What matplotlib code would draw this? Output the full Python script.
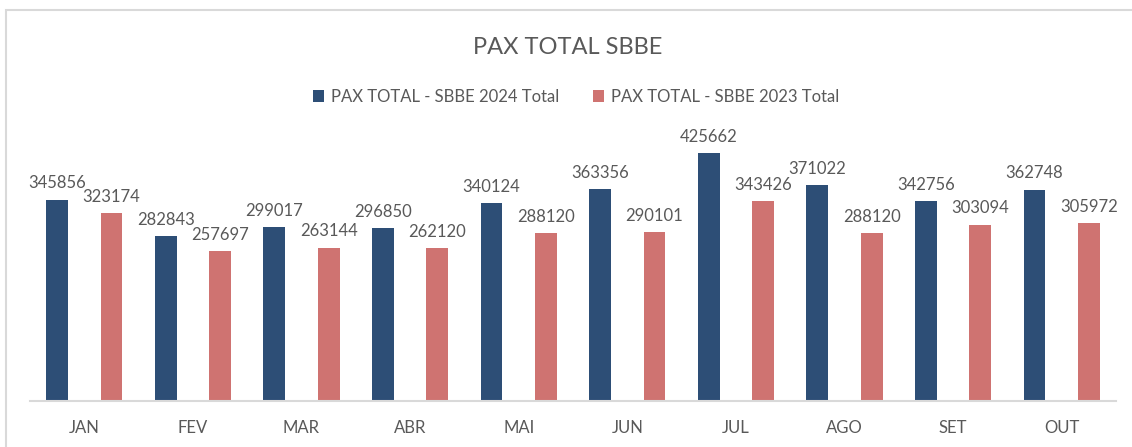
import matplotlib
matplotlib.use("Agg")
import matplotlib.pyplot as plt
from matplotlib.patches import Rectangle
import numpy as np

categories = ["JAN", "FEV", "MAR", "ABR", "MAI", "JUN", "JUL", "AGO", "SET", "OUT"]
pax_2024 = [345856, 282843, 299017, 296850, 340124, 363356, 425662, 371022, 342756, 362748]
pax_2023 = [323174, 257697, 263144, 262120, 288120, 290101, 343426, 288120, 303094, 305972]
series_names = ["PAX TOTAL - SBBE 2024 Total", "PAX TOTAL - SBBE 2023 Total"]
title = "PAX TOTAL SBBE"

plt.rcParams['font.family'] = ['Lato', 'DejaVu Sans']
W, H = 1132, 447
fig = plt.figure(figsize=(W / 100, H / 100), dpi=100)
txt = "#595959"
blue = "#2D4E76"
pink = "#CF7371"

# outer chart frame
fig.patches.append(Rectangle((6 / W, -0.1), 1.2, (H - 10) / H + 0.1, transform=fig.transFigure,
                             fill=False, edgecolor="#D9D9D9", linewidth=1.5))

ax = fig.add_axes([30 / W, 46 / H, (1116 - 30) / W, (401 - 139) / H])
x = np.arange(len(categories))
w = 0.2
b1 = ax.bar(x - 0.25, pax_2024, w, color=blue, label=series_names[0])
b2 = ax.bar(x + 0.25, pax_2023, w, color=pink, label=series_names[1])
for bars in (b1, b2):
    for r in bars:
        ax.annotate(f"{int(r.get_height())}", (r.get_x() + r.get_width() / 2, r.get_height()),
                    xytext=(0, 6), textcoords="offset points", ha="center", va="bottom",
                    fontsize=12, color=txt)

ax.set_xlim(-0.5, len(categories) - 0.5)
ax.set_ylim(0, 450000)
ax.set_xticks(x)
ax.set_xticklabels(categories, fontsize=12, color=txt)
ax.tick_params(axis="x", length=0, pad=14)
ax.set_yticks([])
for s in ("top", "right", "left"):
    ax.spines[s].set_visible(False)
ax.spines["bottom"].set_color("#D9D9D9")
ax.spines["bottom"].set_linewidth(1.5)

fig.text(568 / W, 1 - 47 / H, title, ha="center", va="center", fontsize=17, color=txt)
fig.legend(handles=[b1, b2], labels=series_names, loc="center", bbox_to_anchor=(576 / W, 1 - 97 / H),
           ncol=2, frameon=False, fontsize=12, labelcolor=txt, handlelength=0.7, handleheight=0.7,
           handletextpad=0.4, columnspacing=2.0)

fig.savefig("out.png", dpi=100)
